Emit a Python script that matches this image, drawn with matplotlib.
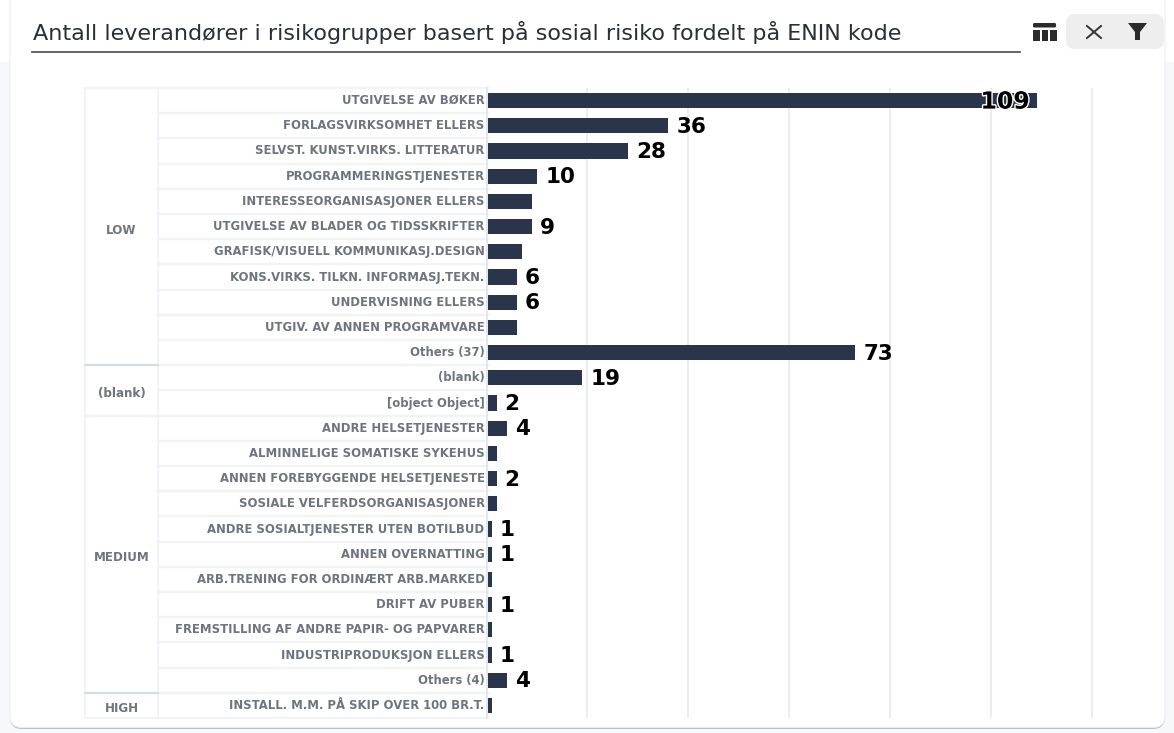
import matplotlib
matplotlib.use('Agg')
import matplotlib.pyplot as plt
import matplotlib.patheffects as pe
from matplotlib.patches import FancyBboxPatch, Rectangle, Polygon
from matplotlib.transforms import ScaledTranslation
import numpy as np

title = "Antall leverandører i risikogrupper basert på sosial risiko fordelt på ENIN kode"

categories = [
    "UTGIVELSE AV BØKER", "FORLAGSVIRKSOMHET ELLERS", "SELVST. KUNST.VIRKS. LITTERATUR",
    "PROGRAMMERINGSTJENESTER", "INTERESSEORGANISASJONER ELLERS", "UTGIVELSE AV BLADER OG TIDSSKRIFTER",
    "GRAFISK/VISUELL KOMMUNIKASJ.DESIGN", "KONS.VIRKS. TILKN. INFORMASJ.TEKN.", "UNDERVISNING ELLERS",
    "UTGIV. AV ANNEN PROGRAMVARE", "Others (37)", "(blank)", "[object Object]",
    "ANDRE HELSETJENESTER", "ALMINNELIGE SOMATISKE SYKEHUS", "ANNEN FOREBYGGENDE HELSETJENESTE",
    "SOSIALE VELFERDSORGANISASJONER", "ANDRE SOSIALTJENESTER UTEN BOTILBUD", "ANNEN OVERNATTING",
    "ARB.TRENING FOR ORDINÆRT ARB.MARKED", "DRIFT AV PUBER", "FREMSTILLING AF ANDRE PAPIR- OG PAPVARER",
    "INDUSTRIPRODUKSJON ELLERS", "Others (4)", "INSTALL. M.M. PÅ SKIP OVER 100 BR.T.",
]
values = [109, 36, 28, 10, 9, 9, 7, 6, 6, 6, 73, 19, 2, 4, 2, 2, 2, 1, 1, 1, 1, 1, 1, 4, 1]
# only some bars carry a label in the original
shown = [109, 36, 28, 10, None, 9, None, 6, 6, None, 73, 19, 2, 4, None, 2, None, 1, 1, None, 1, None, 1, 4, None]
groups = ["LOW", "(blank)", "MEDIUM", "HIGH"]
group_sizes = [11, 2, 11, 1]
xticks = [20, 40, 60, 80, 100, 120]

W, H = 1174, 733
LEFT, RIGHT, TOP, BOTTOM = 488, 1094, 88, 718
COL0, COL1 = 85, 158
row_h = (BOTTOM - TOP) / len(categories)

fig = plt.figure(figsize=(W / 100, H / 100), dpi=100, facecolor='#f7f8fb')

# Overlay in pixel coordinates for the card, header and table cells
bg = fig.add_axes([0, 0, 1, 1], zorder=0)
bg.set_xlim(0, W)
bg.set_ylim(H, 0)
bg.axis('off')

bg.add_patch(Rectangle((0, 0), W, 62, fc='white', ec='none'))
# soft shadow below the card, then the card
bg.add_patch(FancyBboxPatch((10, -30), 1155, 759, boxstyle='round,pad=0,rounding_size=12',
                            fc='#b9bbc0', ec='none'))
bg.add_patch(FancyBboxPatch((10, -30), 1155, 757.5, boxstyle='round,pad=0,rounding_size=12',
                            fc='white', ec='#eceef1', lw=0.8))

bg.text(33, 33, title, fontsize=16, family='DejaVu Sans', color='#2b2f38', va='center', ha='left')
bg.plot([32, 1020], [52, 52], color='#55585e', lw=1.3)

# table icon
bg.add_patch(FancyBboxPatch((1033, 23), 23, 4.5, boxstyle='round,pad=0,rounding_size=1.5', fc='#2b2b2b', ec='none'))
for x0 in (1033, 1041.5, 1050):
    bg.add_patch(Rectangle((x0, 29.5), 6.5, 11, fc='#2b2b2b', ec='none'))

# button group with close and filter
bg.add_patch(FancyBboxPatch((1066, 14), 98, 35, boxstyle='round,pad=0,rounding_size=9', fc='#eeeeee', ec='none'))
bg.plot([1087, 1101], [26, 38], color='#333333', lw=1.4)
bg.plot([1087, 1101], [38, 26], color='#333333', lw=1.4)
bg.add_patch(Polygon([[1128, 23], [1147, 23], [1140, 32], [1140, 40], [1135, 40], [1135, 32]],
                     closed=True, fc='#2b2b2b', ec='none'))

# table lines
row_edges = TOP + row_h * np.arange(len(categories) + 1)
for y in row_edges:
    bg.plot([COL1, LEFT], [y, y], color='#f1f3f9', lw=1.6)
bg.plot([COL0, COL0], [TOP, BOTTOM], color='#f1f3f9', lw=1.4)
bg.plot([COL1, COL1], [TOP, BOTTOM], color='#f1f3f9', lw=1.4)
bg.plot([LEFT - 1, LEFT - 1], [TOP, BOTTOM], color='#e1e6f1', lw=1.4)
bg.plot([COL0, COL1], [TOP, TOP], color='#f1f3f9', lw=1.4)
bg.plot([COL0, COL1], [BOTTOM, BOTTOM], color='#f1f3f9', lw=1.4)

start = 0
for i, (grp, n) in enumerate(zip(groups, group_sizes)):
    y0 = TOP + start * row_h
    y1 = y0 + n * row_h
    if i > 0:
        edge = '#f1f3f9' if grp == 'MEDIUM' else '#d3dcee'
        bg.plot([COL0, COL1], [y0, y0], color=edge, lw=1.6)
    bg.text((COL0 + COL1) / 2, (y0 + y1) / 2 + 3.5, grp, ha='center', va='center', fontsize=8.6,
            fontweight='bold', color='#6f7480', family='DejaVu Sans')
    start += n

# Bars
ax = fig.add_axes([LEFT / W, 1 - BOTTOM / H, (RIGHT - LEFT) / W, (BOTTOM - TOP) / H], zorder=1)
ax.patch.set_alpha(0)
pos = np.arange(len(categories))
ax.barh(pos, values, height=0.6, color='#2a344a', zorder=3)
ax.set_ylim(len(categories) - 0.5, -0.5)
ax.set_xlim(0.3, 120.3)
ax.set_xticks(xticks)
ax.set_xticklabels([])
ax.set_yticks(pos)
ax.set_yticklabels(categories, fontsize=8.4, fontweight='bold', color='#6f7480')
ax.tick_params(axis='both', length=0)
ax.tick_params(axis='y', pad=2.5)
# nudge the row labels up so they sit level with the bars
nudge = ScaledTranslation(0, 1.5 / 100, fig.dpi_scale_trans)
for label in ax.get_yticklabels():
    label.set_transform(label.get_transform() + nudge)
ax.grid(axis='x', color='#e8eaee', lw=1.2, zorder=0)
ax.set_axisbelow(True)
for s in ax.spines.values():
    s.set_visible(False)

for p, v, lab in zip(pos, values, shown):
    if lab is None:
        continue
    if v > 100:
        ax.text(v - 1.4, p + 0.04, str(lab), ha='right', va='center', fontsize=17, fontweight='bold', color='black',
                zorder=5, path_effects=[pe.withStroke(linewidth=2, foreground='white')])
    else:
        ax.text(v + 1.6, p + 0.04, str(lab), ha='left', va='center', fontsize=15.5, fontweight='bold', color='black', zorder=5)

fig.savefig('out.png', dpi=100, facecolor=fig.get_facecolor())
